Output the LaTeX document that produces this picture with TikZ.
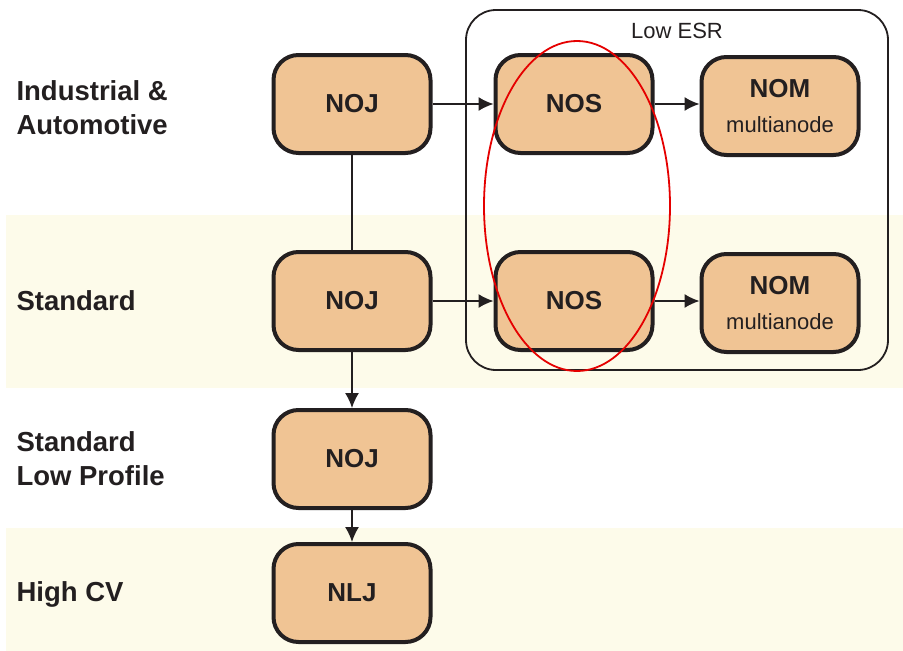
\documentclass[tikz,border=0pt]{standalone}
\usepackage{fontspec}
\setmainfont{Liberation Sans}
\definecolor{boxfill}{RGB}{240,196,148}
\definecolor{band}{RGB}{253,251,234}
\definecolor{ink}{RGB}{35,31,32}
\tikzset{
  series/.style={draw=ink, fill=boxfill, line width=4pt, rounded corners=25pt,
    minimum width=157pt, minimum height=98pt, font=\fontsize{26}{28}\selectfont\bfseries, text=ink},
  rowlabel/.style={anchor=west, align=left, font=\fontsize{27.5}{34}\selectfont\bfseries, text=ink},
  link/.style={ink, line width=1.5pt},
  flow/.style={link, -{Latex[length=15pt,width=14pt]}}
}
\usetikzlibrary{arrows.meta,shapes.geometric}
\begin{document}
\begin{tikzpicture}[x=1pt,y=-1pt]
\useasboundingbox (0,0) rectangle (903,651);
% shaded rows
\fill[band] (6,215) rectangle (903,388);
\fill[band] (6,528) rectangle (903,651);
% row labels
\node[rowlabel] (lind) at (13,108) {Industrial \&\\Automotive};
\node[rowlabel] (lstd) at (13,301) {Standard};
\node[rowlabel] (llow) at (13,459) {Standard\\Low Profile};
\node[rowlabel] (lcv) at (13,594) {High CV};
% low ESR group
\node[draw=ink, line width=1.8pt, rounded corners=30pt, minimum width=422pt, minimum height=360pt] (esr) at (677,190) {};
\node[font=\fontsize{22}{24}\selectfont, text=ink] (esrlabel) at (677,31) {Low ESR};
% series boxes
\node[series] (noja) at (352,104) {NOJ};
\node[series] (nojb) at (352,301) {NOJ};
\node[series] (nojc) at (352,459) {NOJ};
\node[series] (nlj) at (352,593) {NLJ};
\node[series] (nosa) at (574,104) {NOS};
\node[series] (nosb) at (574,301) {NOS};
\foreach \n/\y in {noma/106, nomb/303}
  \node[series, align=center] (\n) at (780,\y) {NOM\\[7pt]{\fontsize{22}{24}\selectfont\mdseries multianode}};
% connectors
\draw[link] (noja) -- (nojb);
\draw[flow] (nojb) -- (nojc);
\draw[flow] (nojc) -- (nlj);
\draw[flow] (noja) -- (nosa);
\draw[flow] (nojb) -- (nosb);
\draw[flow] (nosa) -- (noma.west |- nosa);
\draw[flow] (nosb) -- (nomb.west |- nosb);
% highlight
\draw[red!90!black, line width=1.8pt] (577,206) ellipse (93 and 165);
\end{tikzpicture}
\end{document}
